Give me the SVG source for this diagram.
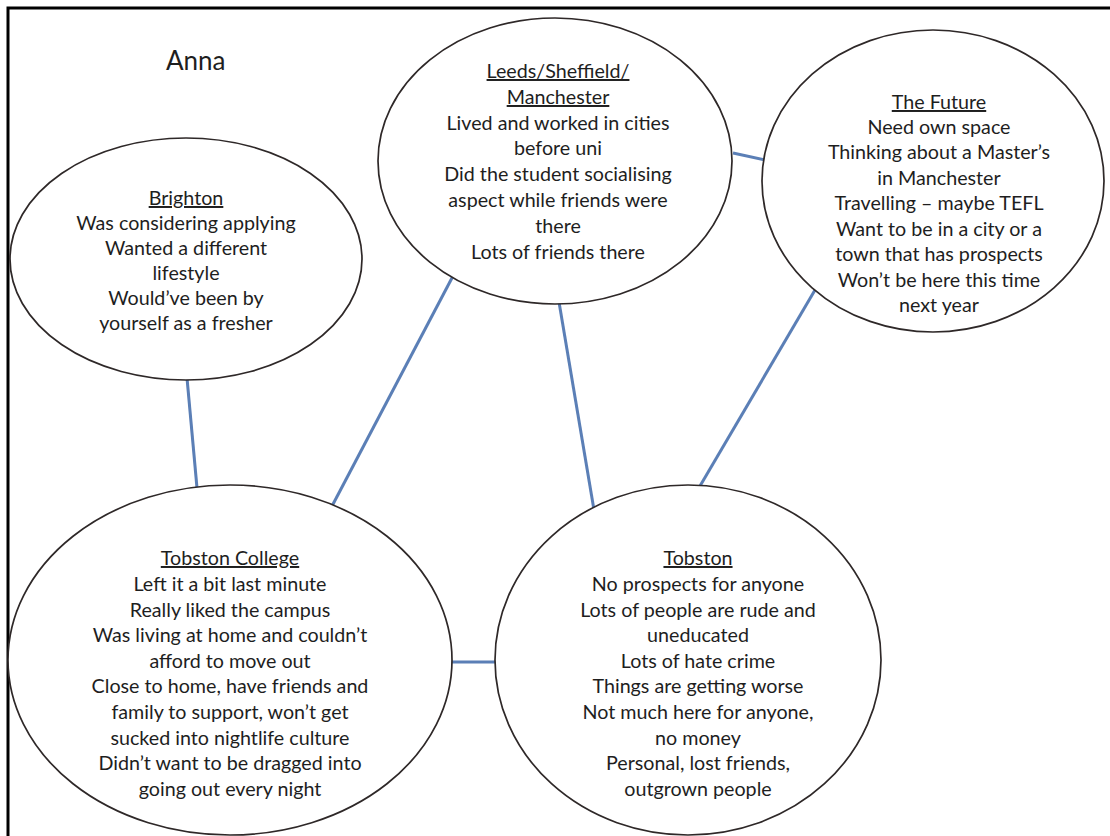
<svg xmlns="http://www.w3.org/2000/svg" width="1110" height="836" viewBox="0 0 1110 836">
<style>
.frame{stroke:#000;stroke-width:3;fill:none}
.node ellipse{fill:#fff;stroke:#2e2828;stroke-width:1.7}
.conn line{stroke:#5b7fb6;stroke-width:3;stroke-linecap:butt}
text{font-family:Lato,"Liberation Sans",sans-serif;font-size:19.7px;fill:#1e1e1e;text-anchor:middle}
.title{text-decoration:underline}
.name{font-size:26px;text-anchor:start}
</style>
<rect width="1110" height="836" fill="#fff"/>
<path class="frame" d="M8,836 V8 H1110"/>
<text class="name" x="166" y="70">Anna</text>
<g id="connectors" class="conn">
<line x1="187" y1="378" x2="197" y2="488"/>
<line x1="453" y1="276" x2="331" y2="508"/>
<line x1="559" y1="302" x2="594" y2="510"/>
<line x1="733" y1="153" x2="765" y2="160"/>
<line x1="815" y1="290" x2="700" y2="486"/>
<line x1="450" y1="662" x2="497" y2="662"/>
</g>
<g id="brighton" class="node">
<ellipse cx="186" cy="259" rx="176" ry="121"/>
<text class="title" x="186" y="205">Brighton</text>
<text x="186" y="230">Was considering applying</text>
<text x="186" y="255">Wanted a different</text>
<text x="186" y="280">lifestyle</text>
<text x="186" y="305">Would’ve been by</text>
<text x="186" y="330">yourself as a fresher</text>
</g>
<g id="leeds" class="node">
<ellipse cx="555" cy="161" rx="177" ry="143"/>
<text class="title" x="558" y="78">Leeds/Sheffield/</text>
<text class="title" x="558" y="104">Manchester</text>
<text x="558" y="130">Lived and worked in cities</text>
<text x="558" y="155">before uni</text>
<text x="558" y="181">Did the student socialising</text>
<text x="558" y="207">aspect while friends were</text>
<text x="558" y="233">there</text>
<text x="558" y="259">Lots of friends there</text>
</g>
<g id="future" class="node">
<ellipse cx="933" cy="181" rx="171" ry="151"/>
<text class="title" x="939" y="109">The Future</text>
<text x="939" y="134">Need own space</text>
<text x="939" y="159">Thinking about a Master’s</text>
<text x="939" y="185">in Manchester</text>
<text x="939" y="210">Travelling – maybe TEFL</text>
<text x="939" y="236">Want to be in a city or a</text>
<text x="939" y="261">town that has prospects</text>
<text x="939" y="287">Won’t be here this time</text>
<text x="939" y="312">next year</text>
</g>
<g id="tobston-college" class="node">
<ellipse cx="230" cy="660" rx="222" ry="175"/>
<text class="title" x="230" y="565">Tobston College</text>
<text x="230" y="591">Left it a bit last minute</text>
<text x="230" y="617">Really liked the campus</text>
<text x="230" y="642">Was living at home and couldn’t</text>
<text x="230" y="668">afford to move out</text>
<text x="230" y="693">Close to home, have friends and</text>
<text x="230" y="719">family to support, won’t get</text>
<text x="230" y="745">sucked into nightlife culture</text>
<text x="230" y="770">Didn’t want to be dragged into</text>
<text x="230" y="796">going out every night</text>
</g>
<g id="tobston" class="node">
<ellipse cx="688" cy="660" rx="193" ry="175"/>
<text class="title" x="698" y="565">Tobston</text>
<text x="698" y="591">No prospects for anyone</text>
<text x="698" y="617">Lots of people are rude and</text>
<text x="698" y="642">uneducated</text>
<text x="698" y="668">Lots of hate crime</text>
<text x="698" y="693">Things are getting worse</text>
<text x="698" y="719">Not much here for anyone,</text>
<text x="698" y="745">no money</text>
<text x="698" y="770">Personal, lost friends,</text>
<text x="698" y="796">outgrown people</text>
</g>
</svg>
